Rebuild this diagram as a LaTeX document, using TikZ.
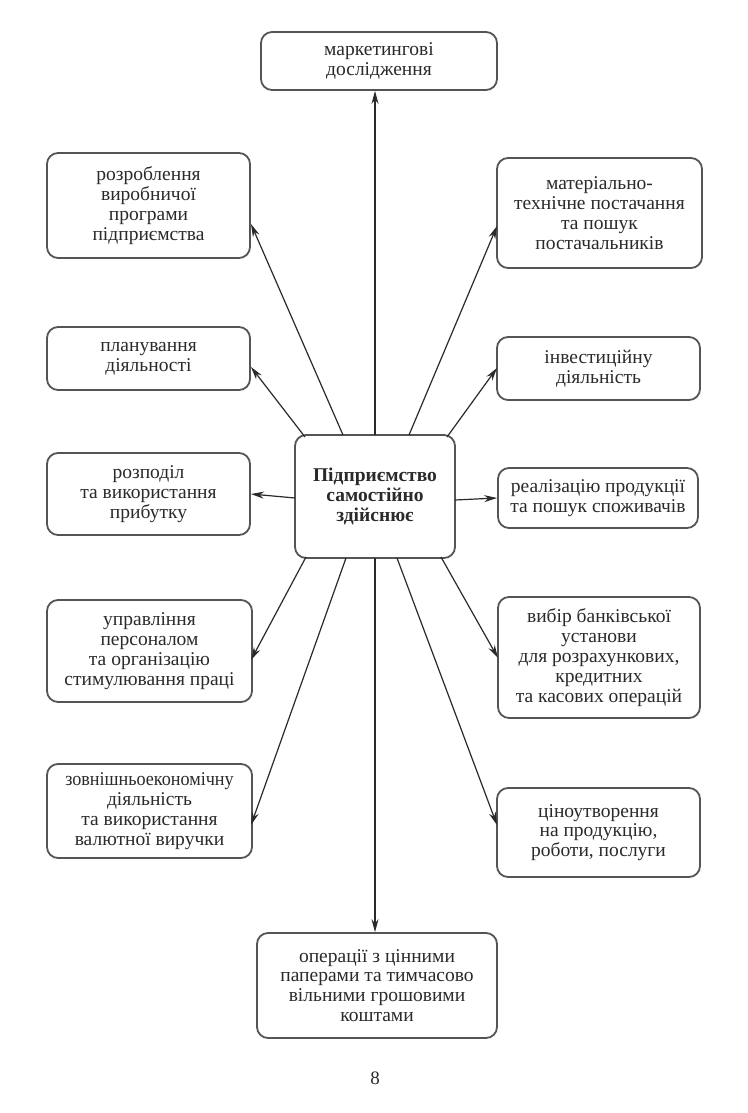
\documentclass[tikz,border=0pt]{standalone}
\usepackage{fontspec}
\usepackage{graphicx}
\setmainfont{Liberation Serif}
\usetikzlibrary{arrows.meta}
\definecolor{ink}{HTML}{2A2A2A}
\definecolor{edge}{HTML}{555555}
\tikzset{
  box/.style={draw=edge, line width=1.8pt, rounded corners=11pt, align=center,
    inner sep=0pt, text=ink, font=\fontsize{19.5}{19.8}\selectfont},
  hub/.style={box, font=\fontsize{19.5}{19.8}\selectfont\bfseries},
  spoke/.style={draw=ink, line width=1.2pt, -{Stealth[length=13pt,width=7pt]}}
}
\begin{document}
\begin{tikzpicture}[x=1pt,y=-1pt]
\useasboundingbox[fill=white] (0,0) rectangle (747,1113);
% boxes
\node[box, minimum width=236pt, minimum height=58pt] (mk) at (379,61) {маркетингові\\дослідження};
\node[box, minimum width=203pt, minimum height=105pt] (rozr) at (148.5,205.5) {розроблення\\виробничої\\програми\\підприємства};
\node[box, minimum width=203pt, minimum height=63pt] (plan) at (148.5,358.5) {планування\\діяльності};
\node[box, minimum width=203pt, minimum height=82pt] (rozp) at (148.5,494) {розподіл\\та використання\\прибутку};
\node[box, minimum width=205pt, minimum height=102pt] (upr) at (149.5,651) {управління\\персоналом\\та організацію\\стимулювання праці};
\node[box, minimum width=205pt, minimum height=94pt] (zovn) at (149.5,811) {\scalebox{0.93}[1]{зовнішньоекономічну}\\діяльність\\та використання\\валютної виручки};
\node[box, minimum width=205pt, minimum height=110pt] (mat) at (599.5,213) {матеріально-\\технічне постачання\\та пошук\\постачальників};
\node[box, minimum width=203pt, minimum height=63pt] (inv) at (598.5,368.5) {інвестиційну\\діяльність};
\node[box, minimum width=200pt, minimum height=60pt] (real) at (598,498) {реалізацію продукції\\та пошук споживачів};
\node[box, minimum width=202pt, minimum height=121pt] (vyb) at (599,657.5) {вибір банківської\\установи\\для розрахункових,\\кредитних\\та касових операцій};
\node[box, minimum width=203pt, minimum height=89pt] (tsin) at (598.5,832.5) {ціноутворення\\на продукцію,\\роботи, послуги};
\node[box, minimum width=240pt, minimum height=105pt] (bot) at (377,985.5) {операції з цінними\\паперами та тимчасово\\вільними грошовими\\коштами};
\node[hub, minimum width=160pt, minimum height=123pt] (c) at (375,496.5) {\raisebox{-4pt}{\parbox{150pt}{\centering Підприємство\\самостійно\\здійснює}}};
\node[text=ink, font=\fontsize{19}{20}\selectfont] (pg) at (375,1078) {8};
% spoke start points on the hub
\coordinate (s1) at (375,435);
\coordinate (s2) at (343,435);
\coordinate (s3) at (409,435);
\coordinate (s4) at (305,437);
\coordinate (s5) at (447,437);
\coordinate (s6) at (295,498);
\coordinate (s7) at (455,500);
\coordinate (s8) at (306,557);
\coordinate (s9) at (441,557);
\coordinate (s10) at (346,558);
\coordinate (s11) at (397,558);
\coordinate (s12) at (375,558);
% spoke end points on the boxes
\coordinate (e2) at (251,224);
\coordinate (e3) at (497,226);
\coordinate (e4) at (251,367);
\coordinate (e5) at (497,368);
\coordinate (e8) at (251,660);
\coordinate (e9) at (498,658);
\coordinate (e10) at (251,825);
\coordinate (e11) at (497,825);
% connectors
\draw[spoke] (s1) -- (s1 |- mk.south);
\draw[spoke] (s2) -- (e2);
\draw[spoke] (s3) -- (e3);
\draw[spoke] (s4) -- (e4);
\draw[spoke] (s5) -- (e5);
\draw[spoke] (s6) -- (rozp.east);
\draw[spoke] (s7) -- (real.west);
\draw[spoke] (s8) -- (e8);
\draw[spoke] (s9) -- (e9);
\draw[spoke] (s10) -- (e10);
\draw[spoke] (s11) -- (e11);
\draw[spoke] (s12) -- (s12 |- bot.north);
\end{tikzpicture}
\end{document}
